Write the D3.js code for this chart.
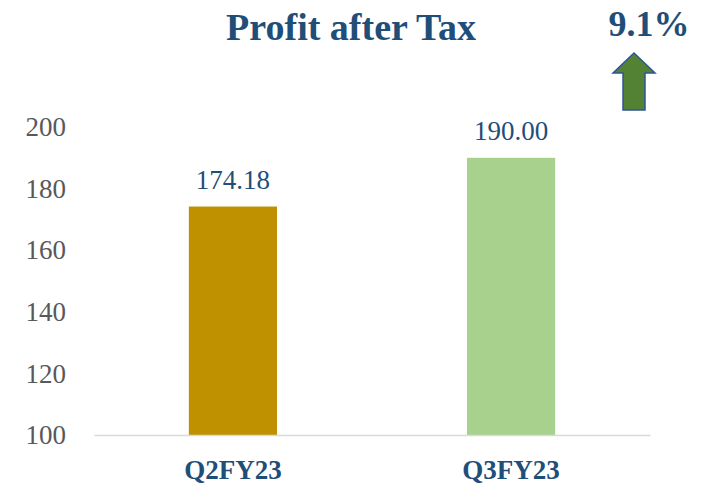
<!DOCTYPE html>
<html>
<head>
<meta charset="utf-8">
<script src="https://cdn.jsdelivr.net/npm/d3@7"></script>
<style>
  body { margin: 0; background: #fff; }
  text { font-family: "Palatino Linotype", "Book Antiqua", "Liberation Serif", serif; }
</style>
</head>
<body>
<svg id="drawing_region"></svg>
<script>
const categories = ["Q2FY23", "Q3FY23"];
const values = [174.18, 190.00];
const barColors = ["#BF9000", "#A9D18E"];
const yTicks = [100, 120, 140, 160, 180, 200];
const growthLabel = "9.1%";

const width = 709, height = 487;
const margin = {top: 127, right: 59, bottom: 52, left: 94};

const svg = d3.select("#drawing_region")
    .attr("width", width)
    .attr("height", height);

const innerW = width - margin.left - margin.right;
const innerH = height - margin.top - margin.bottom;

const chart = svg.append("g")
    .attr("transform", `translate(${margin.left}, ${margin.top})`);

const xscale = d3.scaleBand()
    .domain(categories)
    .range([0, innerW])
    .paddingInner(0.683)
    .paddingOuter(0.341);

const yscale = d3.scaleLinear()
    .domain([100, 200])
    .range([innerH, 0]);

// y axis labels only, no line
const yaxis = d3.axisLeft(yscale).tickValues(yTicks).tickSize(0).tickPadding(28);
chart.append("g")
    .call(yaxis)
    .call(g => g.select(".domain").remove())
    .selectAll("text")
    .attr("font-family", null)
    .attr("font-size", "27px")
    .attr("fill", "#595959");

// bars
chart.selectAll("rect.bar")
    .data(values)
    .enter()
    .append("rect")
    .attr("class", "bar")
    .attr("x", (d, i) => xscale(categories[i]))
    .attr("y", d => yscale(d))
    .attr("width", xscale.bandwidth())
    .attr("height", d => innerH - yscale(d))
    .attr("fill", (d, i) => barColors[i]);

// value labels
chart.selectAll("text.val")
    .data(values)
    .enter()
    .append("text")
    .attr("class", "val")
    .attr("x", (d, i) => xscale(categories[i]) + xscale.bandwidth() / 2)
    .attr("y", d => yscale(d) - 18)
    .attr("text-anchor", "middle")
    .attr("font-size", "27px")
    .attr("fill", "#1F4E79")
    .text(d => d.toFixed(2));

// x axis
const xaxis = d3.axisBottom(xscale).tickSize(0);
chart.append("g")
    .attr("transform", `translate(0, ${innerH})`)
    .call(xaxis)
    .call(g => g.select(".domain").attr("stroke", "#D9D9D9").attr("stroke-width", 1.5))
    .selectAll("text")
    .attr("y", 44)
    .attr("dy", null)
    .attr("font-family", null)
    .attr("font-size", "27px")
    .attr("font-weight", "bold")
    .attr("fill", "#1F4E79");

// title
svg.append("text")
    .attr("x", 351)
    .attr("y", 40)
    .attr("text-anchor", "middle")
    .attr("font-size", "38px")
    .attr("font-weight", "bold")
    .attr("fill", "#1F4E79")
    .text("Profit after Tax");

// growth annotation
svg.append("text")
    .attr("x", 649)
    .attr("y", 36)
    .attr("text-anchor", "middle")
    .attr("font-size", "36px")
    .attr("font-weight", "bold")
    .attr("fill", "#1F4E79")
    .text(growthLabel);

const arrow = [[634, 53], [655, 73], [645, 73], [645, 110], [623, 110], [623, 73], [613, 73]];
svg.append("path")
    .attr("d", d3.line()(arrow) + "Z")
    .attr("fill", "#548235")
    .attr("stroke", "#2F5597")
    .attr("stroke-width", 1.5);
</script>
</body>
</html>
